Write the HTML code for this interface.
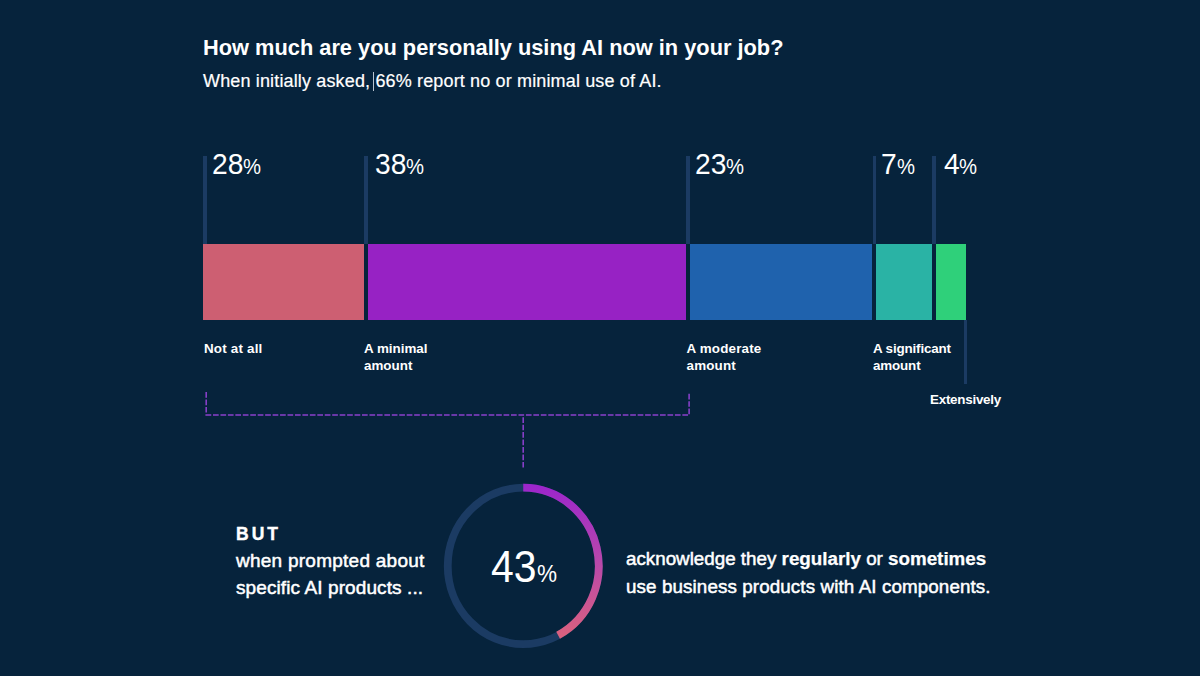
<!DOCTYPE html>
<html><head><meta charset="utf-8">
<style>
html,body{margin:0;padding:0;}
body{width:1200px;height:676px;background:#06233c;overflow:hidden;position:relative;font-family:"Liberation Sans",sans-serif;color:#fff;}
.abs{position:absolute;white-space:nowrap;}
.t{position:absolute;white-space:nowrap;color:#fff;line-height:1;}
.bar{position:absolute;top:243.5px;height:76.5px;}
.vl{position:absolute;width:3.6px;background:#1b3b63;top:156px;height:88px;}
.pct{position:absolute;top:149.1px;font-size:30px;color:#fff;white-space:nowrap;line-height:1;}
.pct b{font-weight:normal;display:inline-block;transform:scaleX(0.94);transform-origin:0 100%;}
.pct i{font-style:normal;display:inline-block;font-size:22.5px;transform:scaleX(0.9);transform-origin:0 100%;}
.lbl{position:absolute;font-size:13.4px;font-weight:bold;line-height:17px;color:#fff;white-space:nowrap;}
.m{-webkit-text-stroke:0.5px #fff;}
.m b{-webkit-text-stroke:0.25px #fff;}
.m2{-webkit-text-stroke:0.2px #fff;}
</style></head><body>

<div class="t" id="title" style="left:203px;top:36.600px;font-size:21.800px;font-weight:bold;letter-spacing:0px;">How much are you personally using AI now in your job?</div>
<div class="t m2" id="sub" style="left:203px;top:72px;font-size:18px;letter-spacing:0.15px;">When initially asked, 66% report no or minimal use of AI.</div>
<div class="abs" style="left:372.500px;top:72px;width:1px;height:19px;background:#b9c4d0;"></div>

<div class="vl" style="left:203.200px;"></div>
<div class="vl" style="left:364.300px;"></div>
<div class="vl" style="left:686.200px;"></div>
<div class="vl" style="left:872.600px;width:3.3px;"></div>
<div class="vl" style="left:932.200px;"></div>
<div class="vl" style="left:964.300px;top:320px;height:63.500px;width:3px;"></div>

<div class="pct" id="p1" style="left:212px;"><b style="margin-right:-2.0px;">28</b><i>%</i></div>
<div class="pct" id="p2" style="left:374.500px;"><b style="margin-right:-2.0px;">38</b><i>%</i></div>
<div class="pct" id="p3" style="left:695px;"><b style="margin-right:-2.0px;">23</b><i>%</i></div>
<div class="pct" id="p4" style="left:881px;"><b style="margin-right:-1.0px;">7</b><i>%</i></div>
<div class="pct" id="p5" style="left:943.500px;"><b style="margin-right:-1.0px;">4</b><i>%</i></div>

<div class="bar" style="left:203.300px;width:161px;background:#cd5f72;"></div>
<div class="bar" style="left:367.900px;width:318.300px;background:#9722c4;"></div>
<div class="bar" style="left:689.800px;width:182.400px;background:#1f62ad;"></div>
<div class="bar" style="left:875.600px;width:56.500px;background:#2ab3a5;"></div>
<div class="bar" style="left:935.800px;width:30.200px;background:#2fd07a;"></div>

<div class="lbl" id="l1" style="left:204px;top:339.500px;letter-spacing:0.2px;">Not at all</div>
<div class="lbl" id="l2" style="left:364px;top:339.500px;">A minimal<br>amount</div>
<div class="lbl" id="l3" style="left:686.500px;top:339.500px;letter-spacing:0.18px;">A moderate<br>amount</div>
<div class="lbl" id="l4" style="left:873px;top:339.500px;letter-spacing:-0.15px;">A significant<br>amount</div>
<div class="lbl" id="l5" style="left:930px;top:391px;letter-spacing:-0.25px;">Extensively</div>

<svg class="abs" style="left:0;top:0;" width="1200" height="676">
  <defs>
    <linearGradient id="g" gradientUnits="userSpaceOnUse" x1="0" y1="484" x2="0" y2="640">
      <stop offset="0" stop-color="#9c25cc"/>
      <stop offset="0.5" stop-color="#b848ab"/>
      <stop offset="1" stop-color="#dc627c"/>
    </linearGradient>
  </defs>
  <path d="M206.2 392 V415 H689.1 V392.600" fill="none" stroke="#8a40cc" stroke-width="1.55" stroke-dasharray="5.7 1.75"/>
  <path d="M523.2 417.200 V467.600" fill="none" stroke="#8a40cc" stroke-width="1.55" stroke-dasharray="5.7 1.75"/>
  <ellipse cx="523.25" cy="565.9" rx="75.5" ry="78.2" fill="none" stroke="#1b3b63" stroke-width="7.8"/>
  <path id="arc" d="M523.25 487.7 A75.5 78.2 0 0 1 558.11 635.26" fill="none" stroke="url(#g)" stroke-width="7.8"/>
</svg>

<div class="t" id="big" style="left:490.500px;top:544.900px;font-size:44px;"><span style="display:inline-block;transform:scaleX(0.93);transform-origin:0 100%;margin-right:-3.4px;">43</span><span style="display:inline-block;font-size:24.500px;transform:scaleX(0.92);transform-origin:0 100%;margin-left:1.2px;">%</span></div>

<div class="t" id="but" style="left:236px;top:525.500px;font-size:17.500px;font-weight:bold;letter-spacing:3px;-webkit-text-stroke:0.4px #fff;">BUT</div>
<div class="t m" id="w1" style="left:236px;top:551px;font-size:19px;letter-spacing:0.25px;">when prompted about</div>
<div class="t m" id="w2" style="left:236px;top:578px;font-size:19px;letter-spacing:0.1px;">specific AI products ...</div>
<div class="t m" id="a1" style="left:626px;top:549.500px;font-size:18.800px;">acknowledge they <b>regularly</b> or <b>sometimes</b></div>
<div class="t m" id="a2" style="left:626px;top:577.500px;font-size:18.800px;letter-spacing:0.11px;">use business products with AI components.</div>

</body></html>
